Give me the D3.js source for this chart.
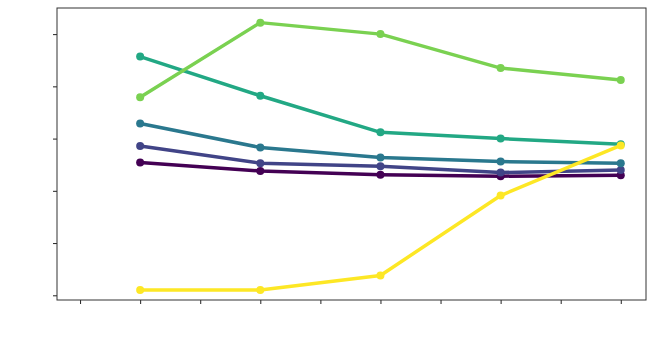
<!DOCTYPE html>
<html>
<head>
<meta charset="utf-8">
<script src="https://cdn.jsdelivr.net/npm/d3@7"></script>
<style>
  body { margin: 0; background: #fff; }
</style>
</head>
<body>
<div id="chart"></div>
<script>
const xValues = [1, 2, 3, 4, 5];
const xTicks = [0.5, 1, 1.5, 2, 2.5, 3, 3.5, 4, 4.5, 5];
const yTicks = [0, 1, 2, 3, 4, 5];

const seriesNames = ['s0', 's1', 's2', 's3', 's4', 's5'];
const seriesColors = ['#440154', '#414487', '#2a788e', '#22a884', '#7ad151', '#fde725'];
const s0 = [2.54, 2.38, 2.31, 2.28, 2.30];
const s1 = [2.86, 2.53, 2.47, 2.35, 2.40];
const s2 = [3.29, 2.83, 2.64, 2.56, 2.53];
const s3 = [4.57, 3.82, 3.12, 3.00, 2.89];
const s4 = [3.79, 5.22, 5.00, 4.35, 4.12];
const s5 = [0.10, 0.10, 0.38, 1.91, 2.87];
const seriesValues = [s0, s1, s2, s3, s4, s5];

const width = 654;
const height = 353;
const margin = { top: 8, right: 8, bottom: 53, left: 57 };
const chartWidth = width - margin.left - margin.right;
const chartHeight = height - margin.top - margin.bottom;

const svg = d3.select('#chart')
  .append('svg')
  .attr('width', width)
  .attr('height', height)
  .append('g')
  .attr('transform', `translate(${margin.left},${margin.top})`);

const xScale = d3.scaleLinear()
  .domain([0.308, 5.21])
  .range([0, chartWidth]);

const yScale = d3.scaleLinear()
  .domain([-0.09, 5.5])
  .range([chartHeight, 0]);

// axes, ticks only (no labels in the original)
const xAxis = svg.append('g')
  .attr('transform', `translate(0,${chartHeight})`)
  .call(d3.axisBottom(xScale).tickValues(xTicks).tickSize(4).tickFormat(''));

const yAxis = svg.append('g')
  .call(d3.axisLeft(yScale).tickValues(yTicks).tickSize(4).tickFormat(''));

[xAxis, yAxis].forEach(a => {
  a.select('.domain').remove();
  a.selectAll('.tick line').attr('stroke', '#222').attr('stroke-width', 1);
});

// frame
svg.append('rect')
  .attr('x', 0)
  .attr('y', 0)
  .attr('width', chartWidth)
  .attr('height', chartHeight)
  .attr('fill', 'none')
  .attr('stroke', '#333')
  .attr('stroke-width', 1);

const line = d3.line()
  .x((d, i) => xScale(xValues[i]))
  .y(d => yScale(d));

seriesValues.forEach((vals, k) => {
  const g = svg.append('g').attr('class', seriesNames[k]);
  g.append('path')
    .datum(vals)
    .attr('d', line)
    .attr('fill', 'none')
    .attr('stroke', seriesColors[k])
    .attr('stroke-width', 3.5)
    .attr('stroke-linejoin', 'round');
  g.selectAll('circle')
    .data(vals)
    .enter()
    .append('circle')
    .attr('cx', (d, i) => xScale(xValues[i]))
    .attr('cy', d => yScale(d))
    .attr('r', 4)
    .attr('fill', seriesColors[k]);
});
</script>
</body>
</html>
